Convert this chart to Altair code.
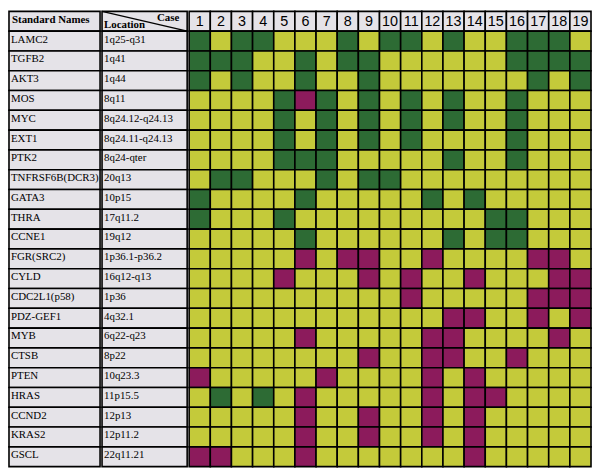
import altair as alt
import pandas as pd

genes = ["LAMC2", "TGFB2", "AKT3", "MOS", "MYC", "EXT1", "PTK2", "TNFRSF6B(DCR3)",
         "GATA3", "THRA", "CCNE1", "FGR(SRC2)", "CYLD", "CDC2L1(p58)", "PDZ-GEF1",
         "MYB", "CTSB", "PTEN", "HRAS", "CCND2", "KRAS2", "GSCL"]
locations = ["1q25-q31", "1q41", "1q44", "8q11", "8q24.12-q24.13", "8q24.11-q24.13",
             "8q24-qter", "20q13", "10p15", "17q11.2", "19q12", "1p36.1-p36.2",
             "16q12-q13", "1p36", "4q32.1", "6q22-q23", "8p22", "10q23.3", "11p15.5",
             "12p13", "12p11.2", "22q11.21"]
cases = list(range(1, 20))
# G = gain (green), L = loss (magenta), N = no change (yellow); one char per case 1..19
status_rows = [
    "GNGGNNNGNGGNGNNGGGN",  # LAMC2
    "GGGNNGNGGNNNNNNGGGG",  # TGFB2
    "GNGNNGNNGNNNNNNNGNG",  # AKT3
    "NNNNGLGNGNGNGNNGNNN",  # MOS
    "NNNNGNGNGNGNGNNGNNN",  # MYC
    "NNNNGNGNGNGNNNNGNNN",  # EXT1
    "NNNNGGGNNNNNGNNGNNN",  # PTK2
    "NGGNNNGNGGNNNNNNNNN",  # TNFRSF6B
    "GNNNNGNNNNNGNGNNNNN",  # GATA3
    "GNNNGNNNNNNNNNGGNNN",  # THRA
    "NNNNNGNNNNNNGNGGNNN",  # CCNE1
    "NNNNNLNLLNNLNNNNLLN",  # FGR
    "NNNNLNNNLNLNNLNNNLL",  # CYLD
    "NNNNNNNNNNLNNNNNLLL",  # CDC2L1
    "NNNNNNNNNNNNLLNNLNL",  # PDZ-GEF1
    "NNNNNLNNNNNLLNNNNLN",  # MYB
    "NNNNNNNNLNNLLNNLNNN",  # CTSB
    "LNNNNNLNNNNLNLNNNNN",  # PTEN
    "NGNGNLNNNNNLNLLNNNN",  # HRAS
    "NNNNNLNNLNNLNLNNNNN",  # CCND2
    "NNNNNLNNLNNLNLNNNNN",  # KRAS2
    "LLNNNLNNNNNNNLNNNNN",  # GSCL
]

GREEN, YELLOW, MAGENTA, GREY = "#2d6b34", "#c4ca3a", "#8c1b5c", "#e5e3e8"
rows_order = ["header"] + genes
ROW_H = 20
H = ROW_H * len(rows_order)
W_NAME, W_LOC, W_GRID = 92, 86, 406
SERIF = "Liberation Serif"

yenc = alt.Y("row:N", scale=alt.Scale(domain=rows_order, paddingInner=0, paddingOuter=0), axis=None)

cells = pd.DataFrame([
    {"row": g, "case": str(c), "status": status_rows[i][c - 1]}
    for i, g in enumerate(genes) for c in cases
])
header_cases = pd.DataFrame({"row": "header", "case": [str(c) for c in cases]})
names_df = pd.DataFrame({"row": genes, "label": genes})
loc_df = pd.DataFrame({"row": genes, "label": locations})
hdr_df = pd.DataFrame({"row": ["header"], "label": [""]})

xcase = alt.X("case:N", scale=alt.Scale(domain=[str(c) for c in cases], paddingInner=0, paddingOuter=0), axis=None)

grid_cells = alt.Chart(cells).mark_rect(stroke="black", strokeWidth=1.6).encode(
    x=xcase, y=yenc,
    color=alt.Color("status:N", scale=alt.Scale(domain=["G", "L", "N"], range=[GREEN, MAGENTA, YELLOW]), legend=None),
)
grid_hdr = alt.Chart(header_cases).mark_rect(stroke="black", strokeWidth=1.6, fill=GREY).encode(x=xcase, y=yenc)
grid_num = alt.Chart(header_cases).mark_text(font="Liberation Sans", fontSize=14.5, color="black", dy=1).encode(
    x=xcase, y=yenc, text="case:N")
grid = alt.layer(grid_hdr, grid_cells, grid_num).properties(width=W_GRID, height=H)

def text_panel(df, width, header_label):
    base_df = pd.concat([hdr_df, df], ignore_index=True)
    bg = alt.Chart(base_df).mark_rect(stroke="black", strokeWidth=1.6, fill=GREY).encode(
        x=alt.value(0), x2=alt.value(width), y=yenc)
    txt = alt.Chart(df).mark_text(font=SERIF, fontSize=11, color="black",
                                  align="left", baseline="middle", dy=-1.5).encode(
        x=alt.value(2), y=yenc, text="label:N")
    layers = [bg, txt]
    if header_label:
        layers.append(alt.Chart(pd.DataFrame({"row": ["header"], "label": [header_label]})).mark_text(
            font=SERIF, fontSize=11, fontWeight="bold", color="black",
            align="left", baseline="middle", dy=-1.5).encode(x=alt.value(3), y=yenc, text="label:N"))
    return layers

names = alt.layer(*text_panel(names_df, W_NAME, "Standard Names")).properties(width=W_NAME, height=H)

loc_layers = text_panel(loc_df, W_LOC, None)
diag = alt.Chart(hdr_df).mark_rule(color="black", strokeWidth=1.4).encode(
    x=alt.value(0), x2=alt.value(W_LOC), y=alt.value(0), y2=alt.value(ROW_H))
case_lbl = alt.Chart(pd.DataFrame({"label": ["Case"]})).mark_text(
    font=SERIF, fontSize=11, fontWeight="bold", color="black",
    align="right", baseline="top").encode(x=alt.value(W_LOC - 8), y=alt.value(1), text="label:N")
loc_lbl = alt.Chart(pd.DataFrame({"label": ["Location"]})).mark_text(
    font=SERIF, fontSize=11, fontWeight="bold", color="black",
    align="left", baseline="bottom").encode(x=alt.value(2), y=alt.value(ROW_H - 1), text="label:N")
location = alt.layer(*loc_layers, diag, case_lbl, loc_lbl).properties(width=W_LOC, height=H)

chart = alt.hconcat(names, location, grid, spacing=0).properties(padding=0).configure_view(
    stroke=None).configure_concat(spacing=0)

chart.save("out.html", embed_options={"renderer": "svg", "actions": False})
